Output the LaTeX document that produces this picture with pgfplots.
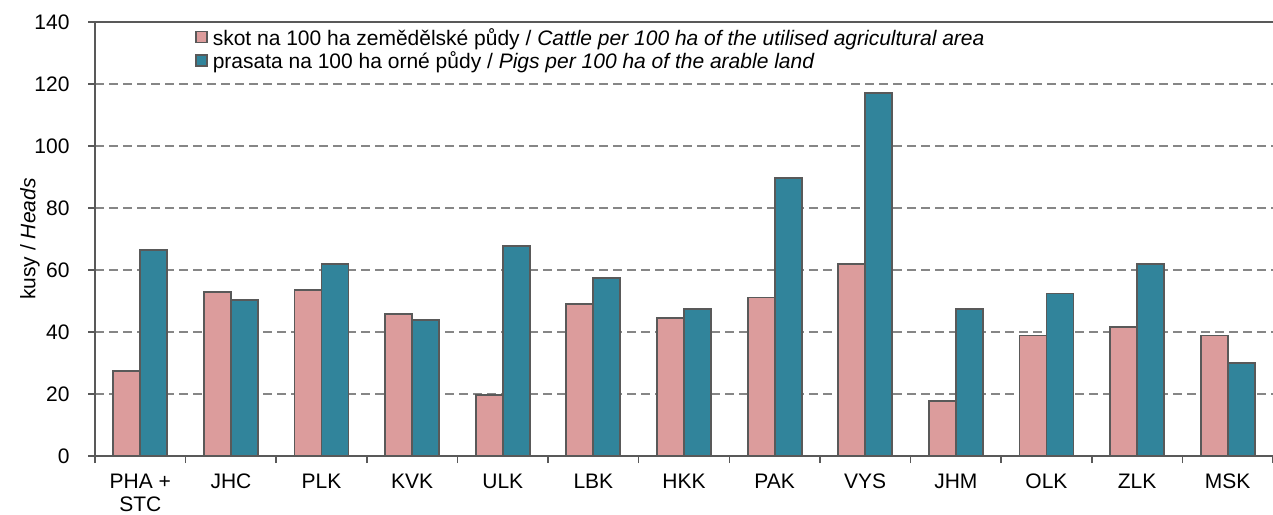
\documentclass[border=0pt]{standalone}
\usepackage{fontspec}
\setmainfont{Liberation Sans}
\usepackage{pgfplots}
\pgfplotsset{compat=1.18}
\definecolor{cattle}{HTML}{DC9C9C}
\definecolor{pigs}{HTML}{31849B}
\definecolor{edge}{HTML}{595959}
\definecolor{gridc}{HTML}{868686}

\begin{document}
\begin{tikzpicture}
\useasboundingbox (-95pt,-58pt) rectangle (1178pt,456pt);
\clip (-95pt,-58pt) rectangle (1178pt,456pt);
\begin{axis}[
  at={(0,0)}, anchor=south west,
  width=1178pt, height=434pt, scale only axis,
  font=\fontsize{21}{23}\selectfont,
  /pgf/number format/assume math mode=true,
  ybar=0pt, bar width=27pt,
  ymin=0, ymax=140, ytick={0,20,...,140},
  xmin=-0.5, xmax=12.5,
  xtick={0,...,12},
  xticklabels={{\strut PHA +\\STC}, \strut JHC, \strut PLK, \strut KVK, \strut ULK,
    \strut LBK, \strut HKK, \strut PAK, \strut VYS, \strut JHM, \strut OLK,
    \strut ZLK, \strut MSK},
  xticklabel style={align=center, anchor=north, yshift=-6pt},
  yticklabel style={xshift=-15pt},
  minor xtick={-0.5,0.5,...,12.5},
  axis lines*=left,
  axis line style={edge, line width=1.8pt},
  tick style={edge, line width=1.6pt},
  major x tick style={draw=none},
  tick align=outside, major tick length=7pt, minor tick length=7pt,
  ymajorgrids,
  grid style={gridc, line width=1.4pt, dash pattern=on 9pt off 5pt},
  ylabel={kusy / \textit{Heads}},
  ylabel style={at={(rel axis cs:0,0.5)}, anchor=center, yshift=65pt,
    font=\fontsize{21}{23}\selectfont},
  legend style={draw=none, fill=none, inner sep=0pt, at={(rel axis cs:0.083,0.99)}, anchor=north west,
    font=\fontsize{21}{23}\selectfont, row sep=1pt},
  legend cell align=left,
  legend image code/.code={\draw[#1, draw=edge, line width=1.4pt] (2pt,-5pt) rectangle (13pt,6pt);
    \path (0pt,0pt) (16pt,0pt);},
]
\addplot[fill=cattle, draw=edge, line width=1.8pt] coordinates {
  (0,27.4) (1,53.0) (2,53.6) (3,45.9) (4,19.7) (5,49.1) (6,44.6)
  (7,51.1) (8,62.0) (9,17.7) (10,38.9) (11,41.5) (12,38.9)
};
\addplot[fill=pigs, draw=edge, line width=1.8pt] coordinates {
  (0,66.5) (1,50.4) (2,61.9) (3,44.0) (4,67.7) (5,57.5) (6,47.3)
  (7,89.7) (8,117.2) (9,47.3) (10,52.4) (11,62.0) (12,30.0)
};
\legend{{skot na 100 ha zemědělské půdy / \textit{Cattle per 100 ha of the utilised agricultural area}},
        {prasata na 100 ha orné půdy / \textit{Pigs per 100 ha of the arable land}}}
\draw[edge, line width=1.8pt] (rel axis cs:0,1) -- (rel axis cs:1,1);
\end{axis}
\end{tikzpicture}
\end{document}
